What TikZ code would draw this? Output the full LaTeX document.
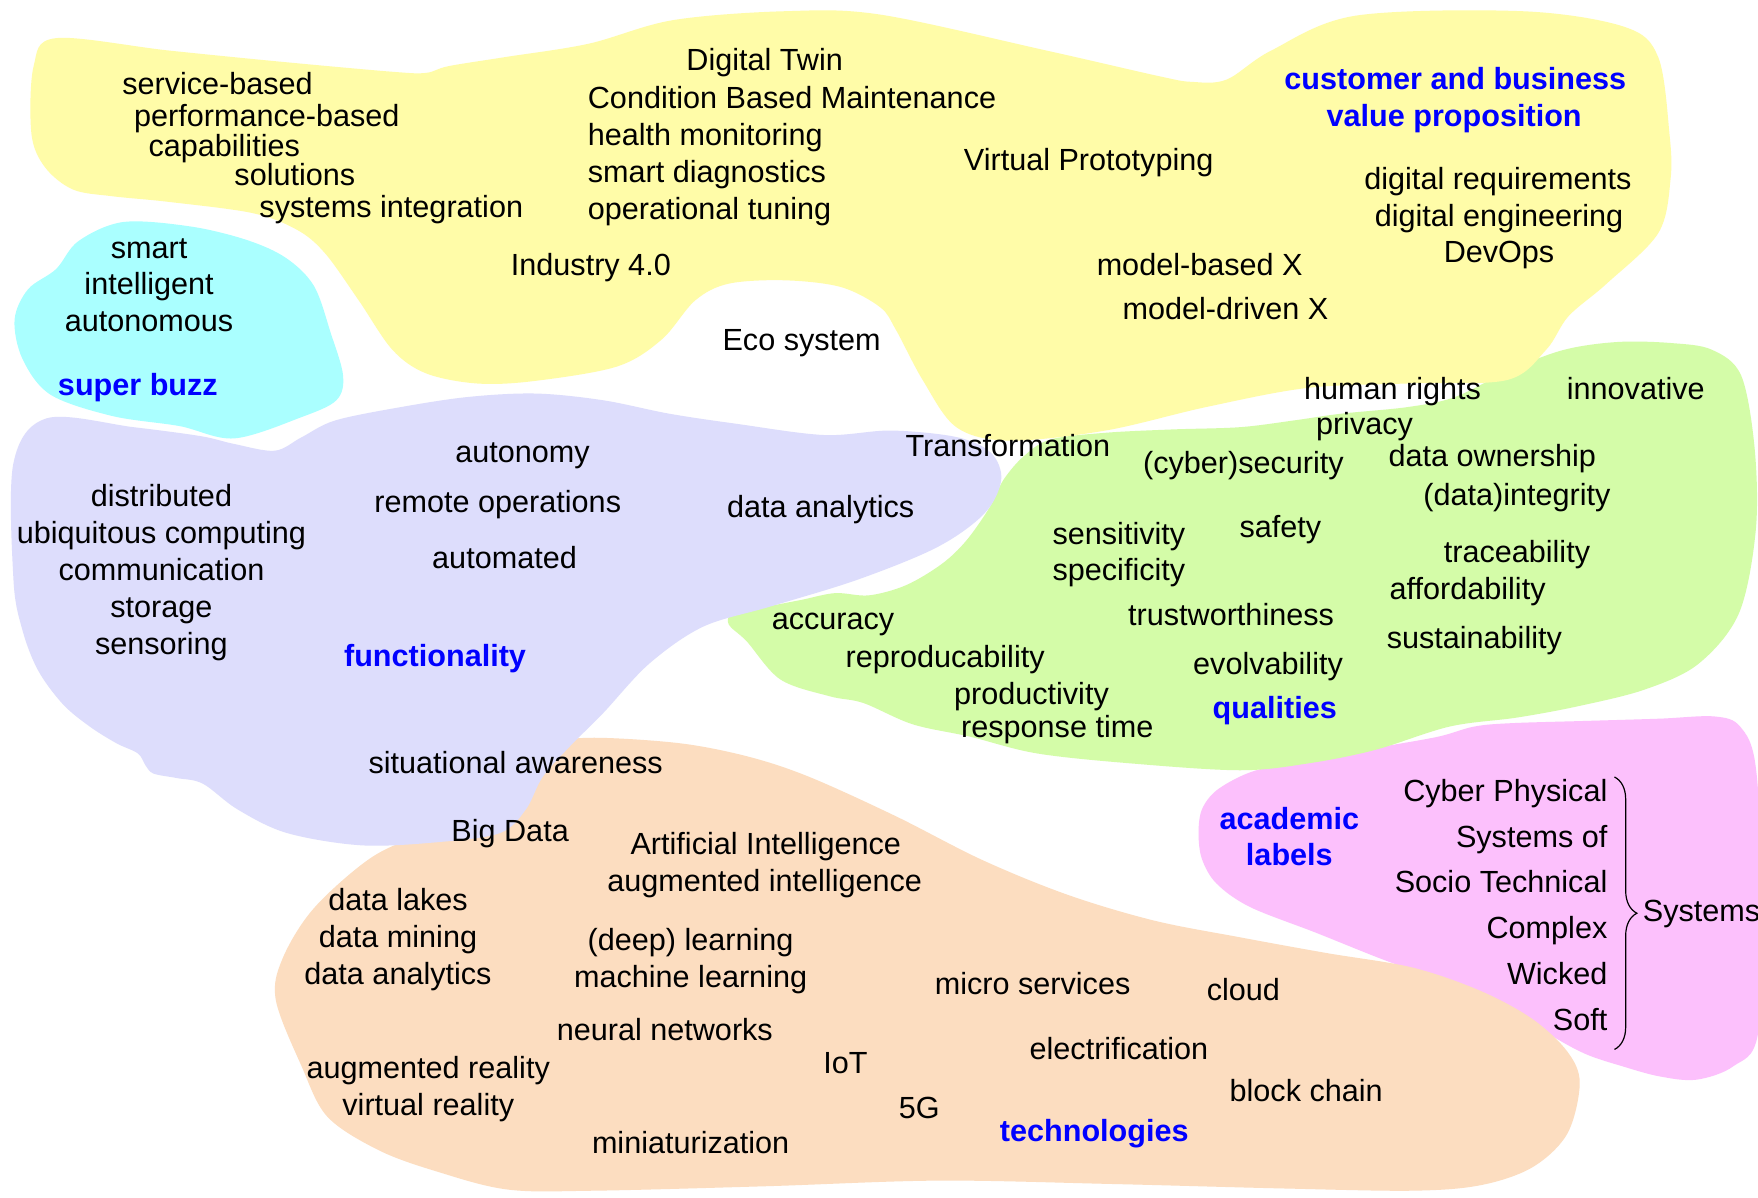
\documentclass[tikz,border=0pt]{standalone}
\usepackage{fontspec}
\setmainfont{Liberation Sans}
\usetikzlibrary{decorations.pathreplacing}
\definecolor{cyel}{RGB}{255,252,168}
\definecolor{ccya}{RGB}{170,255,255}
\definecolor{clav}{RGB}{221,221,252}
\definecolor{cgre}{RGB}{212,252,168}
\definecolor{cpea}{RGB}{252,221,192}
\definecolor{cpin}{RGB}{252,192,252}
\definecolor{cblu}{RGB}{0,0,255}
\begin{document}
\begin{tikzpicture}[x=0.5606pt,y=-0.5606pt,
  blobshape/.style={smooth cycle,tension=0.55},
  txt/.style={inner sep=0pt,text height=10.9pt,text depth=0pt,font=\fontsize{15.3}{18}\selectfont},
  hd/.style={txt,font=\fontsize{15.3}{18}\selectfont\bfseries,text=cblu},
  txw/.style={txt,anchor=west},
  txe/.style={txt,anchor=east}]
\fill[white] (0,0) rectangle (1568,1068);
\useasboundingbox (0,0) rectangle (1568,1068);
% pink
\fill[cpin] plot[blobshape] coordinates {(1069,743) (1072,722) (1085,705) (1112,690) (1145,681) (1184,675) (1233,666) (1283,657) (1315,648) (1348,645) (1414,643) (1480,641) (1529,639) (1552,648) (1566,684) (1572,800) (1568,922) (1546,951) (1513,963) (1480,960) (1447,951) (1414,940) (1381,922) (1340,895) (1290,876) (1234,856) (1174,832) (1115,809) (1085,788) (1072,766)};
% peach
\fill[cpea] plot[blobshape] coordinates {(423,737) (445,712) (470,680) (492,663) (530,658) (607,663) (668,675) (722,693) (799,728) (876,767) (952,798) (1029,821) (1106,836) (1183,850) (1260,863) (1321,884) (1367,909) (1398,938) (1409,966) (1398,1011) (1367,1041) (1321,1057) (1260,1062) (1144,1060) (991,1056) (837,1053) (684,1058) (530,1062) (453,1061) (390,1045) (338,1026) (292,996) (269,951) (246,892) (252,855) (280,810) (331,765) (377,745)};
% green
\fill[cgre] plot[blobshape] coordinates {(654,547) (684,541) (715,535) (745,529) (775,531) (808,522) (840,503) (862,482) (883,452) (895,428) (913,407) (937,392) (986,386) (1046,383) (1106,381) (1154,375) (1196,369) (1256,363) (1298,354) (1347,330) (1395,312) (1443,305) (1491,306) (1527,312) (1553,335) (1565,400) (1566,473) (1551,547) (1515,592) (1467,615) (1407,630) (1353,640) (1293,648) (1226,669) (1166,681) (1106,687) (1010,681) (925,672) (865,657) (814,646) (770,627) (740,621) (696,606) (666,572) (650,557)};
% yellow
\fill[cyel] plot[blobshape] coordinates {(50,34) (150,45) (250,55) (350,64) (380,65) (400,59) (450,51) (525,39) (600,18) (700,10) (785,13) (933,45) (1034,68) (1063,73) (1094,71) (1134,45) (1209,14) (1358,10) (1449,24) (1479,51) (1489,119) (1490,160) (1479,208) (1433,253) (1399,282) (1379,312) (1344,339) (1256,342) (1166,346) (1076,363) (986,384) (900,393) (853,381) (823,339) (799,294) (785,274) (750,256) (700,250) (650,253) (620,268) (590,303) (550,327) (475,340) (425,342) (380,333) (350,312) (320,268) (290,226) (265,205) (225,190) (150,180) (100,175) (65,169) (40,149) (28,119) (30,59)};
% cyan
\fill[ccya] plot[blobshape] coordinates {(110,198) (170,202) (220,214) (255,230) (280,255) (295,297) (306,335) (300,357) (269,372) (209,391) (160,380) (100,371) (45,352) (20,320) (13,285) (25,258) (50,240) (70,215)};
% lavender
\fill[clav] plot[blobshape] coordinates {(42,373) (119,381) (179,389) (209,396) (245,402) (269,390) (299,375) (358,363) (418,354) (478,351) (538,357) (597,369) (657,378) (735,388) (795,384) (854,390) (884,404) (893,428) (878,458) (836,488) (765,517) (687,541) (627,559) (579,592) (538,636) (508,666) (484,693) (469,722) (446,743) (392,751) (323,754) (256,743) (212,722) (181,699) (158,694) (137,690) (130,683) (123,672) (104,663) (80,648) (56,628) (34,598) (20,562) (12,517) (12,413)};

% yellow texts
\node[txt] (sb) at (194,75) {service-based};
\node[txt] (pb) at (238,103) {performance-based};
\node[txt] (cap) at (200,130) {capabilities};
\node[txt] (sol) at (263,156) {solutions};
\node[txt] (si) at (349,184) {systems integration};
\node[txt] (dt) at (682,53) {Digital Twin};
\node[txw] (cbm) at (524,87) {Condition Based Maintenance};
\node[txw] (hm) at (524,120) {health monitoring};
\node[txw] (sd) at (524,153) {smart diagnostics};
\node[txw] (ot) at (524,186) {operational tuning};
\node[txt] (ind) at (527,236) {Industry 4.0};
\node[txt] (vp) at (971,142) {Virtual Prototyping};
\node[hd] (cb) at (1298,70) {customer and business};
\node[hd] (vpp) at (1297,103) {value proposition};
\node[txt] (dr) at (1336,159) {digital requirements};
\node[txt] (de) at (1337,192) {digital engineering};
\node[txt] (dev) at (1337,224) {DevOps};
\node[txt] (mb) at (1070,236) {model-based X};
\node[txt] (md) at (1093,275) {model-driven X};
\node[txt] (eco) at (715,303) {Eco system};
% cyan texts
\node[txt] (sm) at (133,221) {smart};
\node[txt] (intl) at (133,253) {intelligent};
\node[txt] (aut) at (133,286) {autonomous};
\node[hd] (sbz) at (123,343) {super buzz};
% lavender texts
\node[txt] (atn) at (466,403) {autonomy};
\node[txt] (ro) at (444,447) {remote operations};
\node[txt] (atm) at (450,497) {automated};
\node[txt] (da1) at (732,452) {data analytics};
\node[txt] (dis) at (144,442) {distributed};
\node[txt] (ubi) at (144,475) {ubiquitous computing};
\node[txt] (com) at (144,508) {communication};
\node[txt] (sto) at (144,541) {storage};
\node[txt] (sen) at (144,574) {sensoring};
\node[hd] (fun) at (388,585) {functionality};
\node[txt] (sa) at (460,680) {situational awareness};
\node[txt] (tra) at (899,397) {Transformation};
% green texts
\node[txt] (hr) at (1242,347) {human rights};
\node[txt] (inn) at (1459,347) {innovative};
\node[txt] (pri) at (1217,378) {privacy};
\node[txt] (cys) at (1109,413) {(cyber)security};
\node[txt] (dow) at (1331,406) {data ownership};
\node[txt] (din) at (1353,441) {(data)integrity};
\node[txt] (sens) at (998,476) {sensitivity};
\node[txt] (spe) at (998,508) {specificity};
\node[txt] (saf) at (1142,470) {safety};
\node[txt] (trc) at (1353,492) {traceability};
\node[txt] (aff) at (1309,525) {affordability};
\node[txt] (trw) at (1098,548) {trustworthiness};
\node[txt] (acc) at (743,552) {accuracy};
\node[txt] (rep) at (843,586) {reproducability};
\node[txt] (sus) at (1315,569) {sustainability};
\node[txt] (evo) at (1131,592) {evolvability};
\node[txt] (pro) at (920,619) {productivity};
\node[txt] (rt) at (943,648) {response time};
\node[hd] (qua) at (1137,631) {qualities};
% peach texts
\node[txt] (bd) at (455,741) {Big Data};
\node[txt] (ai) at (683,752) {Artificial Intelligence};
\node[txt] (ag) at (682,785) {augmented intelligence};
\node[txt] (dl) at (355,802) {data lakes};
\node[txt] (dm) at (355,835) {data mining};
\node[txt] (da2) at (355,868) {data analytics};
\node[txt] (dpl) at (616,838) {(deep) learning};
\node[txt] (ml) at (616,871) {machine learning};
\node[txt] (ms) at (921,877) {micro services};
\node[txt] (clo) at (1109,883) {cloud};
\node[txt] (nn) at (593,918) {neural networks};
\node[txt] (ele) at (998,935) {electrification};
\node[txt] (ar) at (382,952) {augmented reality};
\node[txt] (vr) at (382,985) {virtual reality};
\node[txt] (iot) at (754,948) {IoT};
\node[txt] (bc) at (1165,973) {block chain};
\node[txt] (fg) at (820,988) {5G};
\node[txt] (min) at (616,1019) {miniaturization};
\node[hd] (tec) at (976,1008) {technologies};
% pink texts
\node[hd] (aca) at (1150,730) {academic};
\node[hd] (lab) at (1150,762) {labels};
\node[txe] (cp) at (1434,705) {Cyber Physical};
\node[txe] (so) at (1434,746) {Systems of};
\node[txe] (st) at (1434,786) {Socio Technical};
\node[txe] (cx) at (1434,827) {Complex};
\node[txe] (wi) at (1434,868) {Wicked};
\node[txe] (sf) at (1434,909) {Soft};
\node[txw] (sys) at (1465,812) {Systems};
\coordinate (brt) at (1440,693);
\coordinate (brb) at (1440,936);
\draw[line width=0.6pt,decorate,decoration={brace,amplitude=11.2pt}] (brt) -- (brb);
\end{tikzpicture}
\end{document}
